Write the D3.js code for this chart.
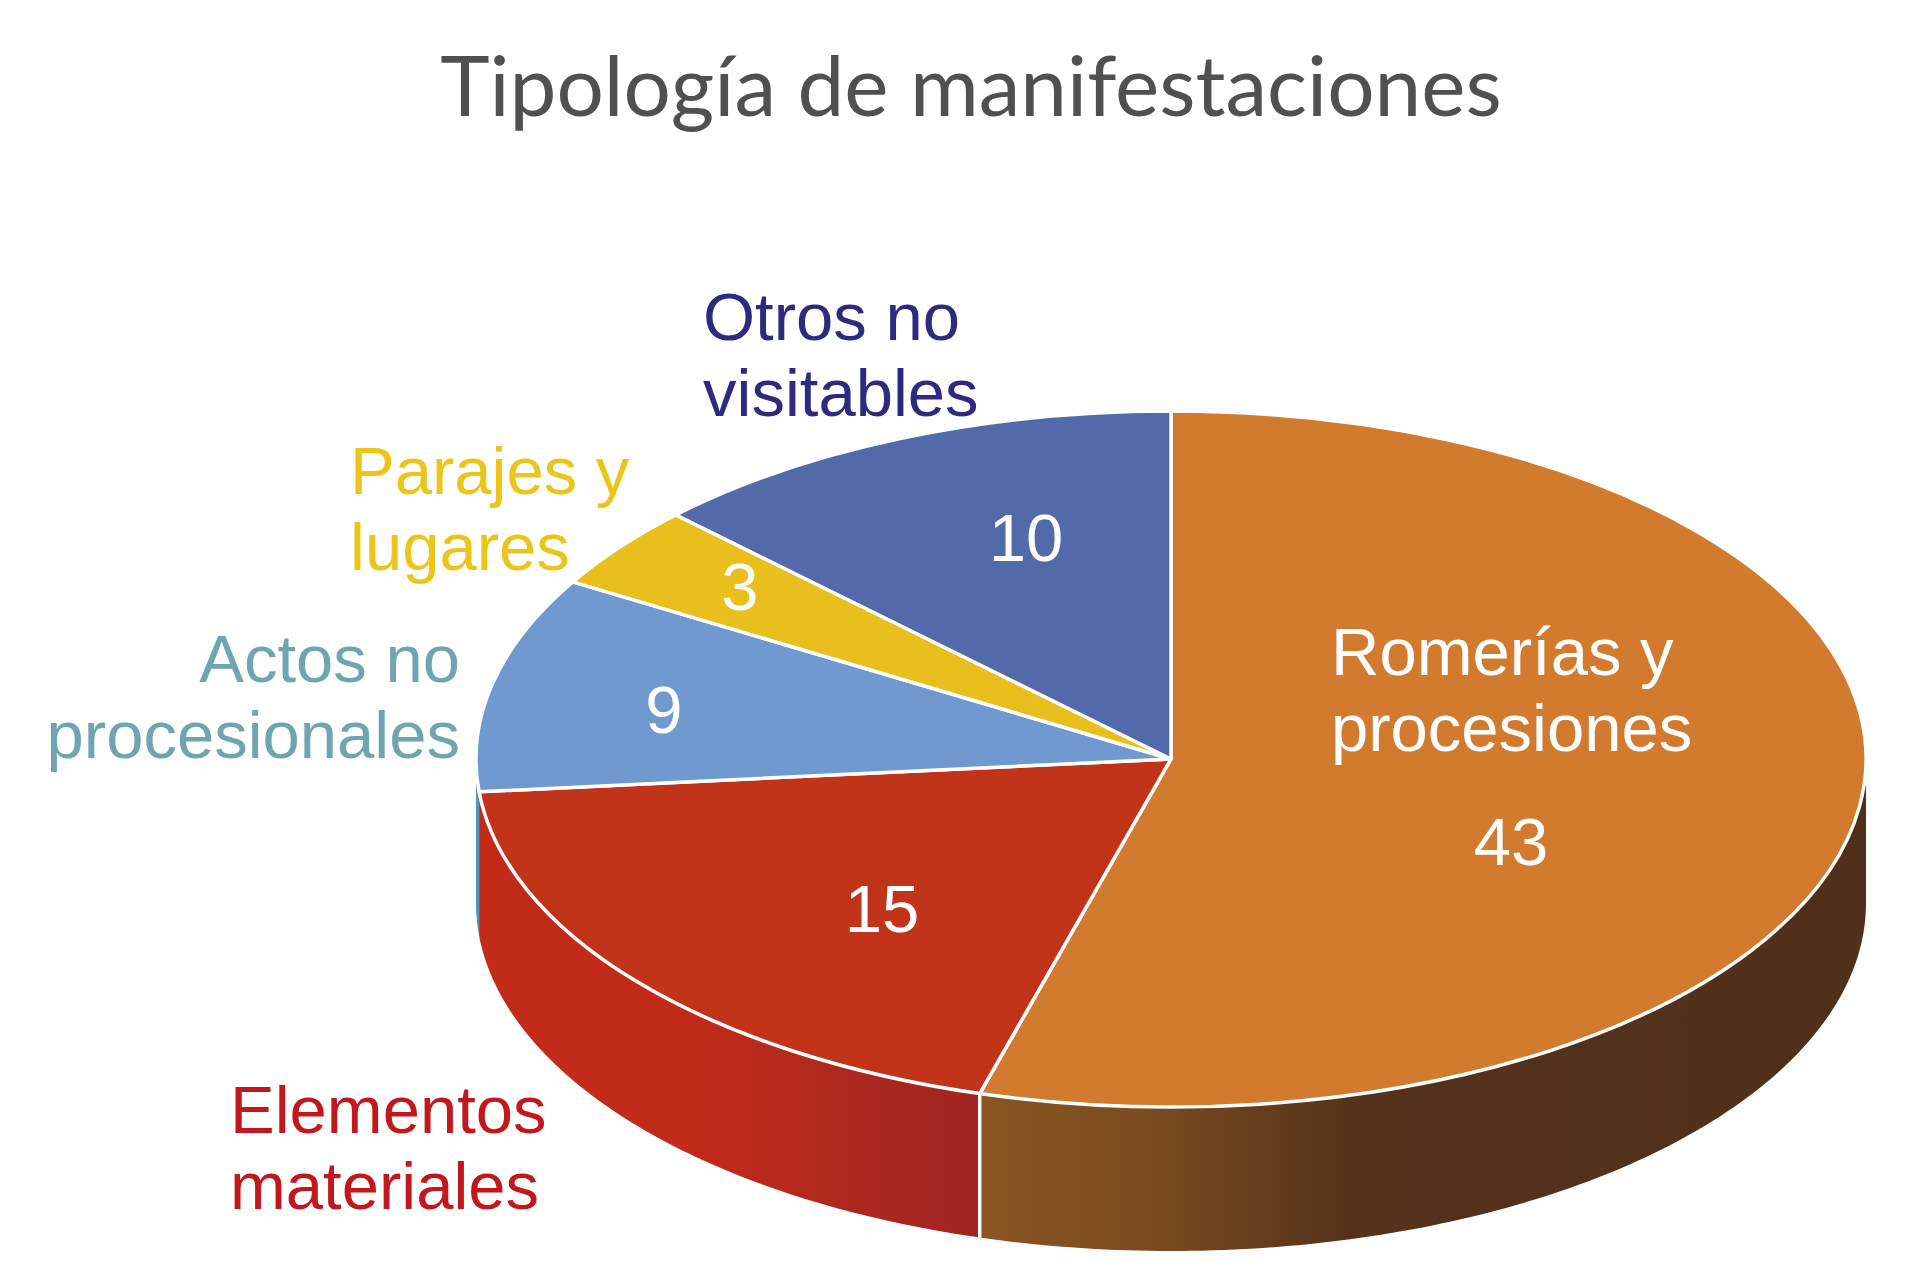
<!DOCTYPE html>
<html>
<head>
<meta charset="utf-8">
<script src="https://cdn.jsdelivr.net/npm/d3@7"></script>
<style>
  html, body { margin: 0; background: #fff; }
  svg { display: block; }
</style>
</head>
<body>
<div id="chart"></div>
<script>
// Data
const categories = ["Romerías y procesiones", "Elementos materiales", "Actos no procesionales", "Parajes y lugares", "Otros no visitables"];
const values = [43, 15, 9, 3, 10];
// the printed numbers don't quite fit the drawn wedges, these are the wedge sizes as measured
const wedgeSizes = [43.55, 15.25, 8.0, 3.1, 10.1];
const topColors = ["#d27a2e", "#c2341a", "#7099d0", "#e9bf1e", "#526aa9"];
const labelColors = ["#ffffff", "#c1171d", "#6fa5b0", "#ecc51a", "#2e2a7f"];

const width = 1920, height = 1273;
const cx = 1171, cy = 759, rx = 695, ry = 348, depth = 144;

const svg = d3.select("#chart")
    .append("svg")
    .attr("width", width)
    .attr("height", height);

const defs = svg.append("defs");

// Side wall gradients run left to right
function addGradient(id, x1, x2, stops) {
    const g = defs.append("linearGradient")
        .attr("id", id)
        .attr("gradientUnits", "userSpaceOnUse")
        .attr("x1", x1).attr("x2", x2)
        .attr("y1", 0).attr("y2", 0);
    stops.forEach(s => g.append("stop").attr("offset", s[0]).attr("stop-color", s[1]));
}
addGradient("wallOrange", 978, 1866, [[0, "#8a5522"], [0.2, "#7a4a1f"], [0.42, "#55321a"], [1, "#50301a"]]);
addGradient("wallRed", 476, 978, [[0, "#c32b19"], [0.45, "#c12a19"], [0.8, "#a92820"], [1, "#a12520"]]);

const wallFills = ["url(#wallOrange)", "url(#wallRed)", "#5b93b5", "none", "none"];

const pie = d3.pie().sort(null).value(d => d);
const wedges = pie(wedgeSizes);

// Position on the ellipse, angle clockwise from the top like d3.pie
const ex = a => cx + rx * Math.sin(a);
const ey = a => cy - ry * Math.cos(a);

// Side walls, only the part facing us (90deg to 270deg)
const wallLine = d3.line();
wedges.forEach((w, i) => {
    const a0 = Math.max(w.startAngle, Math.PI / 2);
    const a1 = Math.min(w.endAngle, Math.PI * 1.5);
    if (a1 <= a0 || wallFills[i] === "none") return;

    const angles = d3.range(0, 121).map(k => a0 + (a1 - a0) * k / 120);
    const pts = angles.map(a => [ex(a), ey(a)])
        .concat(angles.slice().reverse().map(a => [ex(a), ey(a) + depth]));

    svg.append("path")
        .attr("d", wallLine(pts) + "Z")
        .attr("fill", wallFills[i]);
});

// White seam between the red and orange walls
svg.append("line")
    .attr("x1", ex(wedges[0].endAngle)).attr("x2", ex(wedges[0].endAngle))
    .attr("y1", ey(wedges[0].endAngle)).attr("y2", ey(wedges[0].endAngle) + depth)
    .attr("stroke", "#fff")
    .attr("stroke-width", 3.5);

// Top of the pie: a flat d3.arc squashed into an ellipse
const arc = d3.arc().innerRadius(0).outerRadius(rx);
svg.append("g")
    .attr("transform", `translate(${cx},${cy}) scale(1,${ry / rx})`)
    .selectAll("path")
    .data(wedges)
    .enter()
    .append("path")
    .attr("d", arc)
    .attr("fill", (d, i) => topColors[i])
    .attr("stroke", "#fff")
    .attr("stroke-width", 3.5)
    .attr("vector-effect", "non-scaling-stroke")
    .attr("stroke-linejoin", "round");

// Title
svg.append("text")
    .attr("x", 971)
    .attr("y", 116)
    .attr("text-anchor", "middle")
    .attr("font-family", "Lato, sans-serif")
    .attr("font-size", 83.7)
    .attr("fill", "#505050")
    .text("Tipología de manifestaciones");

// Category labels, each splits in two lines after the second word
function twoLines(name) {
    const words = name.split(" ");
    return [words.slice(0, 2).join(" "), words.slice(2).join(" ")];
}

const labelFont = "Liberation Sans, Arial, sans-serif";
const labelSize = 67, lineGap = 76;
const labelSpots = [
    { x: 1331, y: 675, anchor: "start" },
    { x: 230, y: 1133, anchor: "start" },
    { x: 460, y: 682, anchor: "end" },
    { x: 350, y: 494, anchor: "start" },
    { x: 703, y: 340, anchor: "start" }
];

categories.forEach((name, i) => {
    // "Elementos materiales" breaks after the first word
    const lines = name.startsWith("Elementos") ? name.split(" ") : twoLines(name);
    lines.forEach((line, j) => {
        svg.append("text")
            .attr("x", labelSpots[i].x)
            .attr("y", labelSpots[i].y + j * lineGap)
            .attr("text-anchor", labelSpots[i].anchor)
            .attr("font-family", labelFont)
            .attr("font-size", labelSize)
            .attr("fill", labelColors[i])
            .text(line);
    });
});

// Numbers on the wedges
const valueSpots = [[1511, 865], [882, 932], [664, 733], [740, 610], [1026, 561]];
values.forEach((v, i) => {
    svg.append("text")
        .attr("x", valueSpots[i][0])
        .attr("y", valueSpots[i][1])
        .attr("text-anchor", "middle")
        .attr("font-family", labelFont)
        .attr("font-size", labelSize)
        .attr("fill", "#fff")
        .text(v);
});
</script>
</body>
</html>
